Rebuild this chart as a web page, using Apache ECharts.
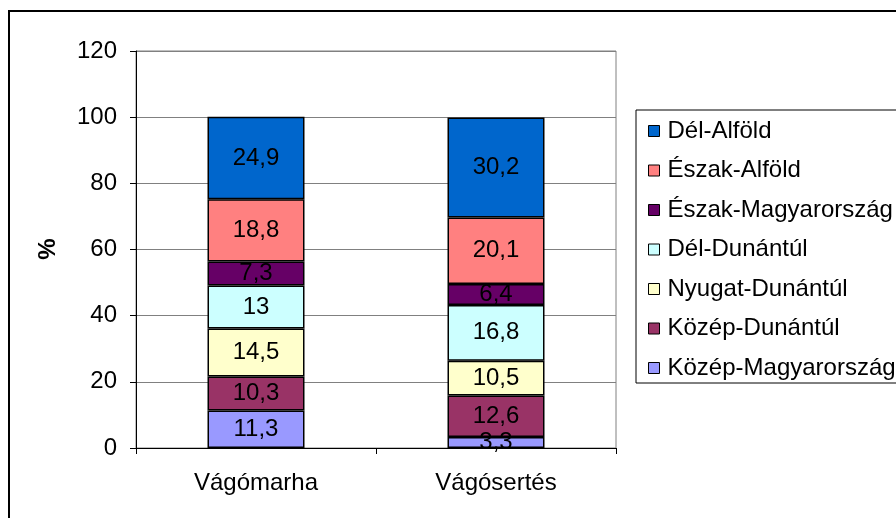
<!DOCTYPE html>
<html>
<head>
<meta charset="utf-8">
<script src="https://cdn.jsdelivr.net/npm/echarts@6/dist/echarts.min.js"></script>
<style>
html,body{margin:0;padding:0;background:#fff;}
#c{width:896px;height:518px;}
</style>
</head>
<body>
<div id="c"></div>
<script>
var categories = ['Vágómarha', 'Vágósertés'];
// series in stacking order (bottom to top)
var seriesNames = ['Közép-Magyarország', 'Közép-Dunántúl', 'Nyugat-Dunántúl', 'Dél-Dunántúl', 'Észak-Magyarország', 'Észak-Alföld', 'Dél-Alföld'];
var kozepMagyarorszag = [11.3, 3.3];
var kozepDunantul = [10.3, 12.6];
var nyugatDunantul = [14.5, 10.5];
var delDunantul = [13, 16.8];
var eszakMagyarorszag = [7.3, 6.4];
var eszakAlfold = [18.8, 20.1];
var delAlfold = [24.9, 30.2];
var yTicks = [0, 20, 40, 60, 80, 100, 120];

var seriesValues = [kozepMagyarorszag, kozepDunantul, nyugatDunantul, delDunantul, eszakMagyarorszag, eszakAlfold, delAlfold];
var colors = ['#9999FF', '#993366', '#FFFFCC', '#CCFFFF', '#660066', '#FF8080', '#0066CC'];
var FONT = '"Liberation Sans", Arial, sans-serif';
var FS = 24;

var chart = echarts.init(document.getElementById('c'), null, {renderer: 'canvas'});
var series = seriesNames.map(function (name, i) {
  return {
    name: name,
    type: 'bar',
    stack: 'total',
    barWidth: 97,
    data: seriesValues[i],
    itemStyle: {color: colors[i], borderColor: '#000', borderWidth: 1.5},
    label: {
      show: true,
      position: 'inside',
      color: '#000',
      fontFamily: FONT,
      fontSize: FS,
      formatter: function (p) { return String(p.value).replace('.', ','); }
    },
    emphasis: {disabled: true}
  };
});

chart.setOption({
  animation: false,
  color: colors,
  textStyle: {fontFamily: FONT},
  grid: {left: 136, top: 51, right: 280, bottom: 70, show: true, borderColor: '#808080', borderWidth: 1},
  graphic: [
    {type: 'rect', z: -1, shape: {x: 9, y: 11, width: 900, height: 520}, style: {fill: 'none', stroke: '#000', lineWidth: 2}},
    {type: 'text', x: 48, y: 249, rotation: Math.PI / 2,
     style: {text: '%', fontFamily: FONT, fontSize: FS, fontWeight: 'bold', fill: '#000', align: 'center', verticalAlign: 'middle'}}
  ],
  legend: {
    orient: 'vertical',
    left: 636,
    top: 110,
    data: seriesNames.slice().reverse(),
    icon: 'rect',
    itemWidth: 11,
    itemHeight: 11,
    itemGap: 15.5,
    padding: [9, 30, 3, 12],
    borderColor: '#000',
    borderWidth: 1,
    itemStyle: {borderColor: '#000', borderWidth: 1},
    textStyle: {fontFamily: FONT, fontSize: FS, color: '#000', lineHeight: 24, padding: [0, 0, 0, 3]},
    selectedMode: false
  },
  xAxis: {
    type: 'category',
    data: categories,
    axisLine: {lineStyle: {color: '#000', width: 1}},
    axisTick: {show: true, length: 6, lineStyle: {color: '#000'}},
    axisLabel: {color: '#000', fontFamily: FONT, fontSize: FS, margin: 23}
  },
  yAxis: {
    type: 'value',
    min: 0,
    max: 120,
    interval: 20,
    axisLine: {show: true, lineStyle: {color: '#000', width: 1}},
    axisTick: {show: true, length: 6, lineStyle: {color: '#000'}},
    axisLabel: {color: '#000', fontFamily: FONT, fontSize: FS, margin: 19,
      formatter: function (v) { return yTicks.indexOf(v) >= 0 ? String(v) : ''; }},
    splitLine: {show: true, lineStyle: {color: '#808080', width: 1}}
  },
  series: series
});
</script>
</body>
</html>
